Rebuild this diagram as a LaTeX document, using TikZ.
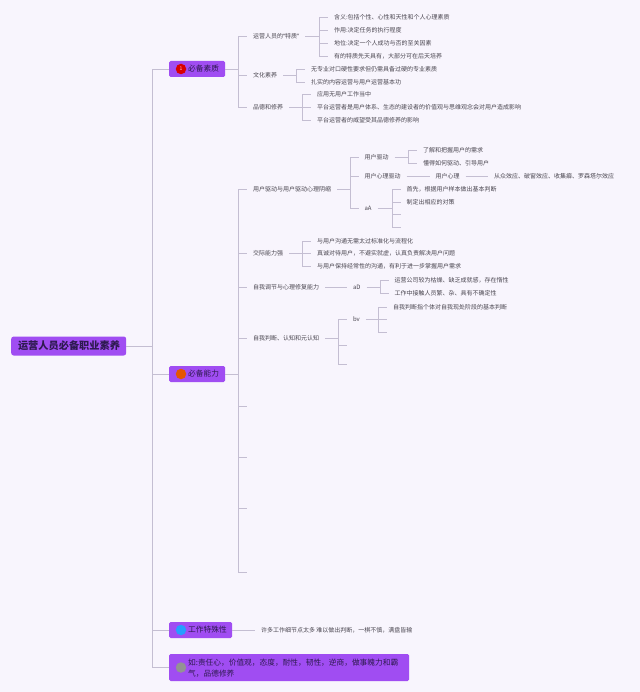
\documentclass[tikz,border=0pt]{standalone}
\usepackage{fontspec}
\setmainfont{Noto Sans CJK SC}
\newfontfamily\latinq{Noto Sans}
\definecolor{bgc}{HTML}{F8F5FD}
\definecolor{linec}{HTML}{C4BED2}
\definecolor{boxc}{HTML}{A04DF2}
\definecolor{inkc}{HTML}{4A4650}
\definecolor{boxink}{HTML}{2E1A50}
\tikzset{
  conn/.style={draw=linec,line width=0.7bp},
  spine/.style={draw=linec,line width=0.9bp},
  leaf/.style={anchor=west,inner sep=0pt,outer xsep=6bp,text=inkc,font=\fontsize{6bp}{7bp}\selectfont},
  catbox/.style={anchor=west,fill=boxc,rounded corners=1.5bp,inner sep=0pt,minimum height=16bp},
  catlabel/.style={anchor=west,inner sep=0pt,text=boxink,font=\fontsize{7.7bp}{11bp}\selectfont},
  icon/.style={circle,inner sep=0pt,minimum size=10.5bp,text=white!80!red,font=\fontsize{5bp}{5bp}\selectfont}
}
\begin{document}
\begin{tikzpicture}[x=1bp,y=-1bp]
\path[fill=bgc,use as bounding box] (0,0) rectangle (640,692);

% root and first level
\node[anchor=west,fill=boxc,rounded corners=2.5bp,inner sep=0pt,minimum width=115bp,minimum height=19bp] (root) at (11,346) {};
\node[anchor=center,inner sep=0pt,text=boxink,font=\fontsize{10.2bp}{12bp}\selectfont\bfseries] (roottext) at (69,346) {运营人员必备职业素养};
\node[catbox,minimum width=56bp] (c1) at (169,69) {};
\node[icon,fill=red!85!black] (i1) at (181,69) {1};
\node[catlabel] (l1) at (188,69) {必备素质};
\node[catbox,minimum width=56bp] (c2) at (169,374) {};
\node[icon,fill=orange!75!red!90!black] (i2) at (181,374) {};
\node[catlabel] (l2) at (188,374) {必备能力};
\node[catbox,minimum width=63bp] (c3) at (169,630) {};
\node[icon,fill=blue!45!cyan!85!white] (i3) at (181,630) {};
\node[catlabel] (l3) at (188,630) {工作特殊性};
\node[catbox,minimum width=240bp,minimum height=27bp] (c4) at (169,667.5) {};
\node[icon,fill=gray!85!white] (i4) at (181,667.5) {};
\node[catlabel,align=left] (l4) at (188,668) {如:责任心，价值观，态度，耐性，韧性，逆商，做事魄力和霸\\气，品德修养};

\coordinate (m0) at (152.5,346);
\draw[spine] (root.east) -- (m0);
\draw[spine] (m0) |- (c1.west);
\draw[spine] (m0) |- (c2.west);
\draw[spine] (m0) |- (c3.west);
\draw[spine] (m0) |- (c4.west);

% 必备素质
\coordinate (s1) at (238,69);
\draw[conn] (c1.east) -- (s1);
\node[leaf] (a1) at (247,36) {运营人员的{\latinq “}特质{\latinq ”}};
\node[leaf] (a2) at (247,75.5) {文化素养};
\node[leaf] (a3) at (247,107.5) {品德和修养};
\foreach \n in {a1,a2,a3} \draw[conn] (s1) |- (\n.west);

\coordinate (j1) at (319.5,36);
\draw[conn] (a1.east) -- (j1);
\node[leaf] (a11) at (328,17.5) {含义:包括个性、心性和天性和个人心理素质};
\node[leaf] (a12) at (328,30.5) {作用:决定任务的执行程度};
\node[leaf] (a13) at (328,43.5) {地位:决定一个人成功与否的至关因素};
\node[leaf] (a14) at (328,56.5) {有的特质先天具有，大部分可在后天培养};
\foreach \n in {a11,a12,a13,a14} \draw[conn] (j1) |- (\n.west);

\coordinate (j2) at (296,75.5);
\draw[conn] (a2.east) -- (j2);
\node[leaf] (a21) at (305,69) {无专业对口硬性要求但仍需具备过硬的专业素质};
\node[leaf] (a22) at (305,82) {扎实的内容运营与用户运营基本功};
\foreach \n in {a21,a22} \draw[conn] (j2) |- (\n.west);

\coordinate (j3) at (302,107.5);
\draw[conn] (a3.east) -- (j3);
\node[leaf] (a31) at (311,94.5) {应用无用户工作当中};
\node[leaf] (a32) at (311,107.5) {平台运营者是用户体系、生态的建设者的价值观与思维观念会对用户造成影响};
\node[leaf] (a33) at (311,120.5) {平台运营者的威望受其品德修养的影响};
\foreach \n in {a31,a32,a33} \draw[conn] (j3) |- (\n.west);

% 必备能力
\coordinate (s2) at (238,374);
\draw[conn] (c2.east) -- (s2);
\node[leaf] (b1) at (247,189) {用户驱动与用户驱动心理阴缩};
\node[leaf] (b2) at (247,253.5) {交际能力强};
\node[leaf] (b3) at (247,287) {自我调节与心理修复能力};
\node[leaf] (b4) at (247,338.5) {自我判断、认知和元认知};
\coordinate (e5) at (247,406.5);
\coordinate (e6) at (247,457);
\coordinate (e7) at (247,508);
\coordinate (e8) at (247,572.5);
\foreach \n in {b1.west,b2.west,b3.west,b4.west,e5,e6,e7,e8} \draw[conn] (s2) |- (\n);

\coordinate (j4) at (350,189);
\draw[conn] (b1.east) -- (j4);
\node[leaf] (b11) at (358.5,157) {用户驱动};
\node[leaf] (b12) at (358.5,176.5) {用户心理驱动};
\node[leaf] (b13) at (358.5,208.5) {aA};
\foreach \n in {b11,b12,b13} \draw[conn] (j4) |- (\n.west);

\coordinate (j5) at (408,157);
\draw[conn] (b11.east) -- (j5);
\node[leaf] (b111) at (417,150.5) {了解和把握用户的需求};
\node[leaf] (b112) at (417,163.5) {懂得如何驱动、引导用户};
\foreach \n in {b111,b112} \draw[conn] (j5) |- (\n.west);

\node[leaf] (b121) at (429.5,176.5) {用户心理};
\node[leaf] (b122) at (488,176.5) {从众效应、破窗效应、收集癖、罗森塔尔效应};
\draw[conn] (b12.east) -- (b121.west);
\draw[conn] (b121.east) -- (b122.west);

\coordinate (j6) at (392,208.5);
\draw[conn] (b13.east) -- (j6);
\node[leaf] (b131) at (400.5,189) {首先，根据用户样本做出基本判断};
\node[leaf] (b132) at (400.5,202) {制定出相应的对策};
\coordinate (e133) at (400.5,214.5);
\coordinate (e134) at (400.5,227.5);
\foreach \n in {b131.west,b132.west,e133,e134} \draw[conn] (j6) |- (\n);

\coordinate (j7) at (302,253.5);
\draw[conn] (b2.east) -- (j7);
\node[leaf] (b21) at (311,241) {与用户沟通无需太过标准化与流程化};
\node[leaf] (b22) at (311,253.5) {真诚对待用户，不避实就虚，认真负责解决用户问题};
\node[leaf] (b23) at (311,266.5) {与用户保持经常性的沟通，有利于进一步掌握用户需求};
\foreach \n in {b21,b22,b23} \draw[conn] (j7) |- (\n.west);

\node[leaf] (b31) at (347,287) {aD};
\draw[conn] (b3.east) -- (b31.west);
\coordinate (j8) at (380,287);
\draw[conn] (b31.east) -- (j8);
\node[leaf] (b311) at (388.5,280.5) {运营公司较为枯燥、缺乏成就感，存在惰性};
\node[leaf] (b312) at (388.5,293) {工作中接触人员繁、杂、具有不确定性};
\foreach \n in {b311,b312} \draw[conn] (j8) |- (\n.west);

\coordinate (j9) at (338,338.5);
\draw[conn] (b4.east) -- (j9);
\node[leaf] (b41) at (347,319.5) {bv};
\coordinate (e42) at (347,345);
\coordinate (e43) at (347,364.5);
\foreach \n in {b41.west,e42,e43} \draw[conn] (j9) |- (\n);

\coordinate (j10) at (378,319.5);
\draw[conn] (b41.east) -- (j10);
\node[leaf] (b411) at (387,307) {自我判断指个体对自我现处阶段的基本判断};
\coordinate (e412) at (387,319.5);
\coordinate (e413) at (387,332);
\draw[conn] (j10) |- (b411.west);
\draw[conn] (j10) -- (e412);
\draw[conn] (j10) |- (e413);

% 工作特殊性
\node[leaf] (c31) at (255,630) {许多工作细节点太多 难以做出判断，一棋不慎，满盘皆输};
\draw[conn] (c3.east) -- (c31.west);
\end{tikzpicture}
\end{document}
